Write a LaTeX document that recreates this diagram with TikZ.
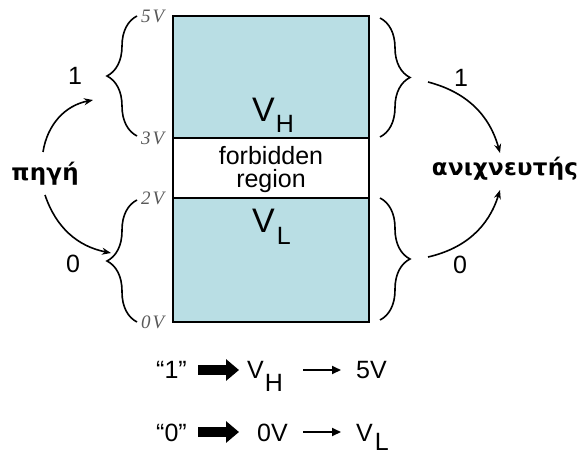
\documentclass[tikz,border=0pt]{standalone}
\usepackage{fontspec}
\setmainfont{Liberation Sans}
\newfontfamily\serifit{Liberation Serif}
\newfontfamily\grk[LetterSpace=1]{DejaVu Sans Bold}
\usetikzlibrary{decorations.pathreplacing,arrows.meta}
\definecolor{bandc}{RGB}{185,222,228}
\tikzset{
  band/.style={draw=black, line width=2.5pt, fill=bandc},
  gap/.style={draw=black, line width=2.5pt, fill=white},
  digit/.style={font=\fontsize{25}{25}\selectfont, inner sep=0, anchor=base},
  volt/.style={font=\fontsize{19}{19}\selectfont\serifit\itshape, text=black!65, anchor=west, inner sep=0},
  brc/.style={decorate, decoration={brace, amplitude=30pt}, line width=1.6pt},
  arr/.style={-{Stealth[length=9pt,width=7pt]}, line width=1.6pt},
  greek/.style={font=\fontsize{23}{23}\selectfont\grk, inner sep=0, anchor=base},
  big/.style={font=\fontsize{34}{34}\selectfont, inner sep=0, anchor=base west},
  mid/.style={font=\fontsize{25}{25}\selectfont, inner sep=0, anchor=base},
  row/.style={font=\fontsize{25}{25}\selectfont, inner sep=0, anchor=base west},
  fat/.style={line width=10pt, -{Triangle[length=13pt,width=21pt]}, shorten >=-2pt},
  thin/.style={line width=2pt, -{Triangle[length=9pt,width=8pt]}}
}
\begin{document}
\begin{tikzpicture}[x=1pt,y=1pt]
\useasboundingbox (0,0) rectangle (577,-454);

% bands
\path[band] (173,-16) rectangle (369,-138);
\path[gap] (173,-138) rectangle (369,-198);
\path[band] (173,-198) rectangle (369,-322);

\node[big] (vh) at (252,-122) {V\hspace{1pt}\raisebox{-11pt}{\fontsize{25}{25}\selectfont H}};
\node[big] (vl) at (252,-232) {V\hspace{2pt}\raisebox{-12pt}{\fontsize{25}{25}\selectfont L}};
\node[mid] (forb) at (271,-165) {forbidden};
\node[mid] (regn) at (271,-188) {region};

% voltage labels
\node[volt] (v5) at (141,-16) {5\kern2pt V};
\node[volt] (v3) at (141,-138) {3\kern2pt V};
\node[volt] (v2) at (141,-198) {2\kern2pt V};
\node[volt] (v0) at (141,-322) {0\kern2pt V};

% braces
\draw[brc] (137,-136) -- (137,-16);
\draw[brc] (137,-322) -- (137,-200);
\draw[brc] (380,-18) -- (380,-137);
\draw[brc] (380,-198) -- (380,-320);

% digits
\node[digit] (l1) at (75,-85) {1};
\node[digit] (l0) at (73,-272) {0};
\node[digit] (r1) at (461,-87) {1};
\node[digit] (r0) at (460,-273) {0};

% source / detector
\node[greek] (src) at (45,-181) {πηγή};
\node[greek] (det) at (505,-176) {ανιχνευτής};

\coordinate (s1) at (43,-152);
\coordinate (e1) at (93,-100);
\coordinate (s0) at (45,-195);
\coordinate (e0) at (111,-253);
\coordinate (a1) at (428,-82);
\coordinate (b1) at (500,-153);
\coordinate (a0) at (428,-257);
\coordinate (b0) at (500,-190);

\draw[arr] (s1) to[bend left=35] (e1);
\draw[arr] (s0) to[bend right=30] (e0);
\draw[arr] (a1) to[bend left=30] (b1);
\draw[arr] (a0) to[bend right=30] (b0);

% bottom rows
\node[row] (q1) at (156,-378) {“1”};
\node[row] (rvh) at (247,-378) {V\hspace{1pt}\raisebox{-13pt}{H}};
\node[row] (r5) at (356,-378) {5V};
\node[row] (q0) at (156,-441) {“0”};
\node[row] (r0v) at (257,-441) {0V};
\node[row] (rvl) at (356,-441) {V\hspace{2pt}\raisebox{-9pt}{L}};

\coordinate (f1s) at (198,-370);
\coordinate (f1e) at (237,-370);
\coordinate (t1s) at (303,-370);
\coordinate (t1e) at (341,-370);
\coordinate (f0s) at (198,-432);
\coordinate (f0e) at (237,-432);
\coordinate (t0s) at (303,-432);
\coordinate (t0e) at (341,-432);

\draw[fat] (f1s) -- (f1e);
\draw[thin] (t1s) -- (t1e);
\draw[fat] (f0s) -- (f0e);
\draw[thin] (t0s) -- (t0e);
\end{tikzpicture}
\end{document}
